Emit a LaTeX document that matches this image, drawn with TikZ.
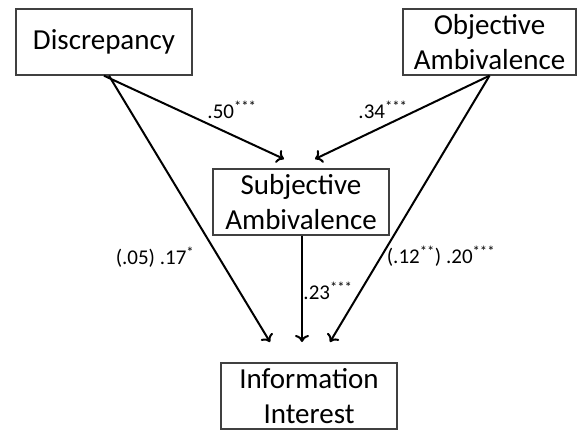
\documentclass[tikz,border=0pt]{standalone}
\usepackage{fontspec}
\setmainfont{Carlito}
\usetikzlibrary{arrows.meta}
\begin{document}
\begin{tikzpicture}[x=1pt,y=-1pt,
  box/.style={draw=black!75,line width=1.4pt,minimum width=176pt,minimum height=66pt,align=center,inner sep=0pt,
    font=\fontsize{29}{35}\selectfont},
  arr/.style={line width=2pt,-{To[length=7pt,width=14pt,line width=2pt]}},
  lab/.style={font=\fontsize{21}{24}\selectfont,inner sep=0pt}]
\useasboundingbox (0,0) rectangle (577,431);
\node[box] (disc) at (104,42) {Discrepancy};
\node[box,minimum width=173pt] (obj) at (489.5,42) {Objective\\Ambivalence};
\node[box] (sub) at (301,202) {Subjective\\Ambivalence};
\node[box] (info) at (309,396) {Information\\Interest};
\coordinate (t1) at (284,159);
\coordinate (t2) at (315,159);
\coordinate (t3) at (270,342);
\coordinate (t4) at (302,342);
\coordinate (t5) at (330,342);
\draw[arr] (disc.south) -- (t1);
\draw[arr] ([xshift=5pt]disc.south) -- (t3);
\draw[arr] (obj.south) -- (t2);
\draw[arr] (obj.south) -- (t5);
\draw[arr] (sub.south -| t4) -- (t4);
\node[lab] (l1) at (232,110) {.50\textsuperscript{***}};
\node[lab] (l2) at (383,110) {.34\textsuperscript{***}};
\node[lab] (l3) at (155,257) {(.05) .17\textsuperscript{*}};
\node[lab] (l4) at (328,291) {.23\textsuperscript{***}};
\node[lab] (l5) at (441,256) {(.12\textsuperscript{**}) .20\textsuperscript{***}};
\end{tikzpicture}
\end{document}
